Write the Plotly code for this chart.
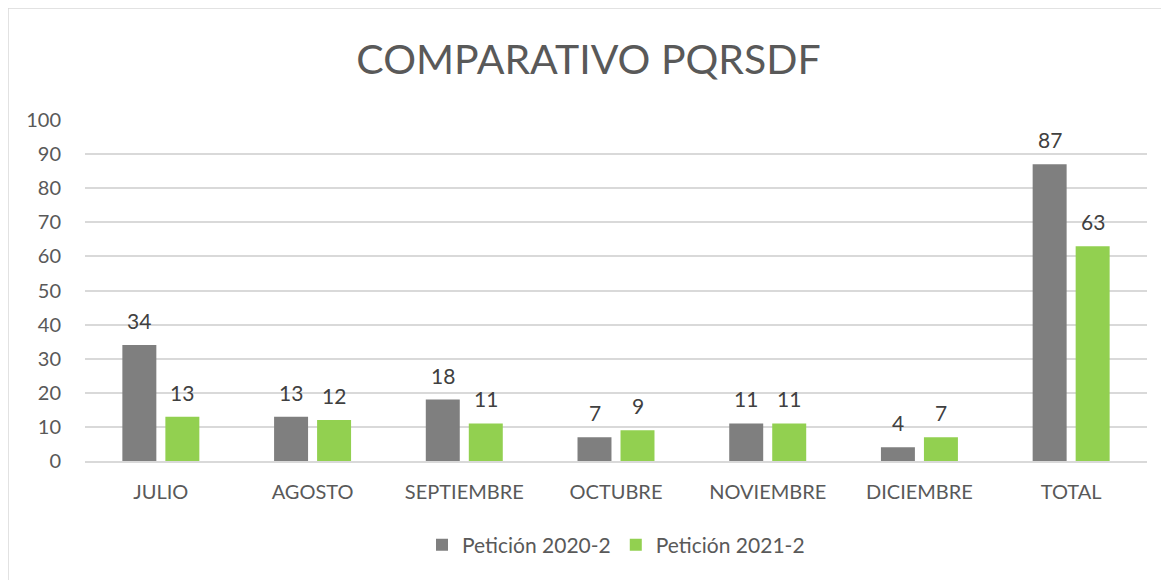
import plotly.graph_objects as go

categories = ["JULIO", "AGOSTO", "SEPTIEMBRE", "OCTUBRE", "NOVIEMBRE", "DICIEMBRE", "TOTAL"]
peticion_2020 = [34, 13, 18, 7, 11, 4, 87]
peticion_2021 = [13, 12, 11, 9, 11, 7, 63]
series_names = ["Petición 2020-2", "Petición 2021-2"]
tick_vals = [0, 10, 20, 30, 40, 50, 60, 70, 80, 90, 100]

FONT = "Lato"
W, H = 1161, 572
L, R, T, B = 77, 22, 112, 119
PW, PH = W - L - R, H - T - B

fig = go.Figure()
fig.add_trace(go.Bar(x=categories, y=peticion_2020, name=series_names[0],
                     marker=dict(color="#7F7F7F", line=dict(width=0))))
fig.add_trace(go.Bar(x=categories, y=peticion_2021, name=series_names[1],
                     marker=dict(color="#92D050", line=dict(width=0))))

annotations = []
for vals, dx in ((peticion_2020, -21.5), (peticion_2021, 21.5)):
    for c, v in zip(categories, vals):
        annotations.append(dict(x=c, y=v, xref="x", yref="y", text=str(v), showarrow=False,
                                xshift=dx, yshift=10, yanchor="bottom", xanchor="center",
                                font=dict(family=FONT, size=21, color="#404040")))

fig.update_layout(
    width=W, height=H,
    paper_bgcolor="white", plot_bgcolor="white",
    margin=dict(l=L, r=R, t=T, b=B),
    barmode="group", bargap=0.433, bargroupgap=0.21,
    title=dict(text="COMPARATIVO PQRSDF", x=0.5, xanchor="center", y=0.909, yanchor="middle",
               font=dict(family=FONT, size=41, color="#595959")),
    font=dict(family=FONT, color="#595959"),
    showlegend=True,
    legend=dict(orientation="h", x=0.5, xanchor="center", y=-84 / PH, yanchor="middle",
                font=dict(family=FONT, size=21, color="#595959"), itemwidth=30,
                traceorder="normal"),
    annotations=annotations,
    shapes=[dict(type="rect", xref="paper", yref="paper", x0=-L / PW, x1=1.05, y0=-0.6, y1=1 + T / PH,
                 line=dict(color="#D9D9D9", width=1.5), fillcolor="rgba(0,0,0,0)", layer="below")],
)
fig.update_xaxes(showline=True, linecolor="#D9D9D9", linewidth=1.5, ticks="",
                 tickfont=dict(family=FONT, size=20, color="#595959"), ticklabelstandoff=12)
fig.update_yaxes(range=[0, 100], tickvals=tick_vals, showgrid=True, gridcolor="#D9D9D9", gridwidth=1.5,
                 zeroline=False, showline=False, ticks="",
                 tickfont=dict(family=FONT, size=20, color="#595959"), ticklabelstandoff=23)

fig.write_html("out.html")
